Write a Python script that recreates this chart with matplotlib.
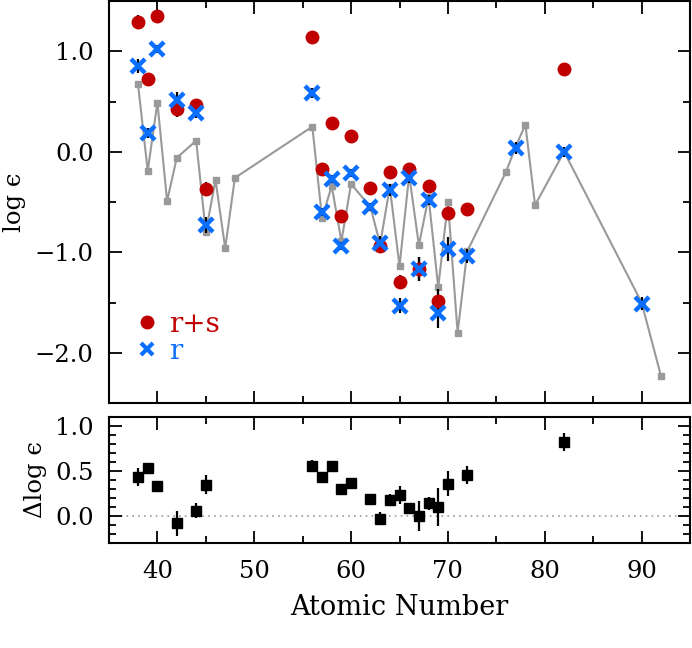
import matplotlib
matplotlib.use("Agg")
import matplotlib.pyplot as plt
from matplotlib.lines import Line2D
from matplotlib.ticker import MultipleLocator, FuncFormatter
import numpy as np

plt.rcParams['font.family'] = ['DejaVu Serif', 'DejaVu Sans']
plt.rcParams['axes.unicode_minus'] = True

# ---- data ----
# r+s measurements
z_rs = [38, 39, 40, 42, 44, 45, 56, 57, 58, 59, 60, 62, 63, 64, 65, 66, 67, 68, 69, 70, 72, 82]
v_rs = [1.29, 0.72, 1.35, 0.43, 0.47, -0.37, 1.14, -0.17, 0.29, -0.64, 0.16, -0.36, -0.94, -0.20,
        -1.30, -0.17, -1.17, -0.34, -1.49, -0.61, -0.57, 0.82]
e_rs = [0.07, 0.04, 0.04, 0.08, 0.05, 0.07, 0.04, 0.04, 0.04, 0.04, 0.04, 0.04, 0.07, 0.05,
        0.07, 0.04, 0.12, 0.06, 0.12, 0.05, 0.06, 0.06]

# r measurements
z_r = [38, 39, 40, 42, 44, 45, 56, 57, 58, 59, 60, 62, 63, 64, 65, 66, 67, 68, 69, 70, 72, 77, 82, 90]
v_r = [0.85, 0.19, 1.02, 0.51, 0.39, -0.73, 0.58, -0.60, -0.27, -0.94, -0.21, -0.55, -0.91, -0.38,
       -1.53, -0.26, -1.17, -0.48, -1.60, -0.97, -1.04, 0.04, 0.00, -1.51]
e_r = [0.07, 0.05, 0.04, 0.08, 0.05, 0.08, 0.05, 0.04, 0.04, 0.04, 0.04, 0.04, 0.07, 0.06,
       0.07, 0.05, 0.12, 0.05, 0.15, 0.12, 0.07, 0.06, 0.05, 0.06]

# scaled solar r-process pattern (gray line)
z_sol = [38, 39, 40, 41, 42, 44, 45, 46, 47, 48, 56, 57, 58, 59, 60, 62, 63, 64, 65, 66, 67, 68,
         69, 70, 71, 72, 76, 77, 78, 79, 82, 90, 92]
v_sol = [0.67, -0.19, 0.49, -0.49, -0.06, 0.11, -0.80, -0.28, -0.96, -0.26, 0.25, -0.66, -0.34,
         -0.89, -0.32, -0.55, -0.92, -0.35, -1.14, -0.23, -0.93, -0.45, -1.35, -0.50, -1.80, -0.99,
         -0.20, 0.05, 0.27, -0.53, 0.00, -1.50, -2.23]

# difference panel
z_d = [38, 39, 40, 42, 44, 45, 56, 57, 58, 59, 60, 62, 63, 64, 65, 66, 67, 68, 69, 70, 72, 82]
v_d = [0.43, 0.53, 0.33, -0.08, 0.06, 0.35, 0.56, 0.43, 0.56, 0.30, 0.37, 0.19, -0.03, 0.18,
       0.23, 0.09, 0.00, 0.14, 0.10, 0.36, 0.46, 0.82]
e_d = [0.10, 0.04, 0.04, 0.14, 0.08, 0.11, 0.06, 0.04, 0.04, 0.04, 0.04, 0.04, 0.07, 0.07,
       0.10, 0.05, 0.17, 0.07, 0.21, 0.14, 0.10, 0.10]

legend_labels = ['r+s', 'r']

RED = '#C00000'
BLUE = '#0A6EFF'
GRAY = '#999999'

W, H = 692, 648
fig = plt.figure(figsize=(W / 100, H / 100), dpi=100)
ax1 = fig.add_axes([109 / W, 1 - 403 / H, 581 / W, 402 / H])
ax2 = fig.add_axes([109 / W, 1 - 543 / H, 581 / W, 126 / H])

TICK_FS = 17.5
minus_fmt = FuncFormatter(lambda v, p: f'{v:.1f}'.replace('-', '\u2212'))

def style(ax):
    for s in ax.spines.values():
        s.set_linewidth(1.5)
    ax.tick_params(which='both', direction='in', top=True, right=True, width=1.3,
                   labelsize=TICK_FS)
    ax.tick_params(axis='y', pad=11)
    ax.tick_params(axis='x', pad=12)
    ax.tick_params(which='major', length=9)
    ax.tick_params(which='minor', length=5)
    ax.xaxis.set_major_locator(MultipleLocator(10))
    ax.xaxis.set_minor_locator(MultipleLocator(5))

# top panel
ax1.plot(z_sol, v_sol, '-', color=GRAY, lw=1.5, marker='s', ms=3.8, mec=GRAY, mfc=GRAY, zorder=1)
ax1.errorbar(z_rs, v_rs, yerr=e_rs, fmt='none', ecolor='black', elinewidth=1.6, capsize=0, zorder=2)
ax1.errorbar(z_r, v_r, yerr=e_r, fmt='none', ecolor='black', elinewidth=1.6, capsize=0, zorder=2)
ax1.plot(z_rs, v_rs, 'o', color=RED, ms=9, mec=RED, zorder=3)
ax1.plot(z_r, v_r, 'x', color=BLUE, ms=10, mew=3.2, zorder=4)
ax1.set_xlim(35, 95)
ax1.set_ylim(-2.5, 1.5)
style(ax1)
ax1.yaxis.set_major_locator(MultipleLocator(1.0))
ax1.yaxis.set_minor_locator(MultipleLocator(0.5))
ax1.yaxis.set_major_formatter(minus_fmt)
ax1.tick_params(axis='x', labelbottom=False)
ax1.set_ylabel('log ϵ', fontsize=TICK_FS, labelpad=6)

handles = [Line2D([], [], ls='none', marker='o', color=RED, ms=9),
           Line2D([], [], ls='none', marker='x', color=BLUE, ms=8.5, mew=3)]
leg = ax1.legend(handles, legend_labels, loc='upper left', bbox_to_anchor=(0.046, 0.23),
                 frameon=False, fontsize=20, handlelength=0.8, handletextpad=0.4,
                 labelspacing=0.0, borderpad=0.0, borderaxespad=0.0,
                 labelcolor=[RED, BLUE])

# bottom panel
ax2.axhline(0, color=GRAY, lw=1.2, ls=(0, (1, 2.5)), zorder=1)
ax2.errorbar(z_d, v_d, yerr=e_d, fmt='s', color='black', ms=6.5, elinewidth=1.6, capsize=0, zorder=3)
ax2.set_xlim(35, 95)
ax2.set_ylim(-0.3, 1.1)
style(ax2)
ax2.yaxis.set_major_locator(MultipleLocator(0.5))
ax2.yaxis.set_minor_locator(MultipleLocator(0.1))
ax2.yaxis.set_major_formatter(minus_fmt)
ax2.set_xlabel('Atomic Number', fontsize=19.5, labelpad=8)
ax2.set_ylabel('Δlog ϵ', fontsize=TICK_FS, labelpad=6)

fig.savefig('out.png', dpi=100)
